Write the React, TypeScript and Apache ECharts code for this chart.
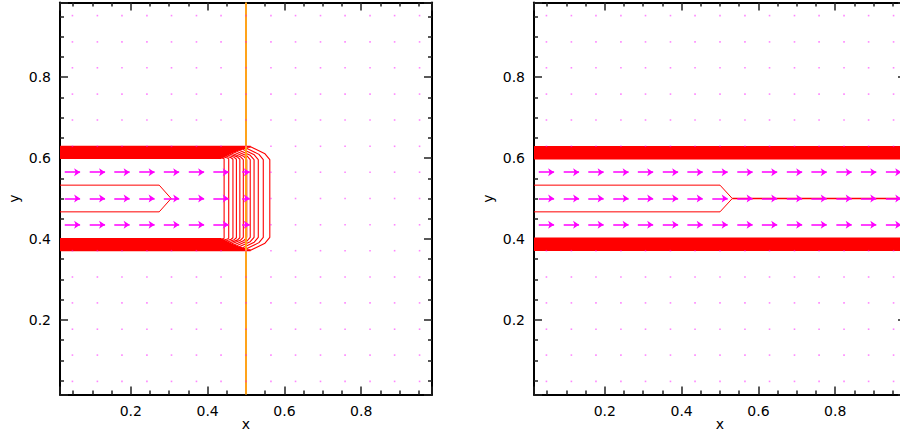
import React, { useEffect, useRef } from "react";
import * as echarts from "echarts";

// ---------- data ----------
const AX_MIN = 0.015625;
const AX_MAX = 0.984375;
const tickLabels = ["0.2", "0.4", "0.6", "0.8"];

// vector-field sample positions (both axes)
const gridCoords = [0.048, 0.113, 0.177, 0.242, 0.306, 0.371, 0.435, 0.5, 0.565, 0.629, 0.694, 0.758, 0.823, 0.887, 0.952];
// rows (indices into gridCoords) that carry a flow
const arrowRows = [6, 7, 8];
// x-velocity per column
const leftArrowU = [1, 1, 1, 1, 1, 1, 1, 0.5, 0, 0, 0, 0, 0, 0, 0];
const rightArrowU = [1, 1, 1, 1, 1, 1, 1, 1, 1, 1, 1, 1, 1, 1, 1];
const ARROW_SCALE = 0.04;

// left panel: nested contour shells (top half; bottom mirrored about y=0.5)
const leftShellX = [0.443, 0.455, 0.466, 0.475, 0.484, 0.493, 0.502, 0.511, 0.521, 0.532, 0.545, 0.562];
const leftShellTop = [0.6, 0.6025, 0.605, 0.6075, 0.61, 0.6125, 0.615, 0.6175, 0.62, 0.6225, 0.625, 0.628];
const leftShellBend = [0.436, 0.442, 0.447, 0.452, 0.457, 0.462, 0.468, 0.474, 0.481, 0.49, 0.5, 0.512];
const leftShellVert = [0.598, 0.598, 0.597, 0.597, 0.597, 0.596, 0.596, 0.596, 0.596, 0.596, 0.596, 0.596];

// inner contour (left)
const leftInnerX = [AX_MIN, 0.274, 0.305, 0.274, AX_MIN];
const leftInnerY = [0.533, 0.533, 0.5, 0.467, 0.467];
// right panel bands (top half)
const rightBandY = [0.599, 0.602, 0.604, 0.607, 0.609, 0.612, 0.614, 0.617, 0.619, 0.622, 0.624, 0.627];
const rightInnerX = [AX_MIN, 0.5, 0.532, 0.5, AX_MIN];
const rightInnerY = [0.533, 0.533, 0.5, 0.467, 0.467];
const rightTailX = [0.532, AX_MAX];
const rightTailY = [0.5, 0.5];

const orangeX = 0.5;

// ---------- helpers ----------
const FONT = "DejaVu Sans";
const RED = "#ff0000";
const MAGENTA = "#ff00ff";

function fmt(v: number) {
  const k = Math.round(v * 5);
  if (Math.abs(v * 5 - k) < 1e-6 && k > 0 && k < 5) return tickLabels[k - 1];
  return "";
}

function axisCommon(showLabel: boolean) {
  return {
    type: "value",
    min: AX_MIN,
    max: AX_MAX,
    splitLine: { show: false },
    axisLine: { show: true, onZero: false, lineStyle: { color: "#000", width: 2 } },
    axisTick: { show: true, inside: true, length: 8, lineStyle: { color: "#222", width: 1.5 } },
    minorTick: { show: true, splitNumber: 4, length: 4, lineStyle: { color: "#222", width: 1.5 } },
    minorSplitLine: { show: false },
    axisLabel: {
      show: showLabel,
      formatter: fmt,
      fontFamily: FONT,
      fontSize: 14,
      color: "#000",
      margin: 9,
      showMinLabel: false,
      showMaxLabel: false,
    },
  };
}

function lineSeries(g: number, pts: number[][], color: string, width: number) {
  return {
    type: "line",
    xAxisIndex: g * 2,
    yAxisIndex: g * 2,
    data: pts,
    showSymbol: false,
    symbol: "none",
    silent: true,
    clip: true,
    lineStyle: { color, width },
    z: 2,
  };
}

function buildArrows(g: number, u: number[]) {
  const data: any[] = [];
  arrowRows.forEach((r) => {
    u.forEach((val, c) => {
      if (val <= 0) return;
      const half = (val * ARROW_SCALE) / 2;
      const x = gridCoords[c];
      const y = gridCoords[r];
      data.push({ coords: [[x - half, y], [x + half, y]] });
    });
  });
  return {
    type: "lines",
    coordinateSystem: "cartesian2d",
    xAxisIndex: g * 2,
    yAxisIndex: g * 2,
    data,
    silent: true,
    symbol: ["none", "arrow"],
    symbolSize: 6,
    lineStyle: { color: MAGENTA, width: 1.5, opacity: 1 },
    z: 5,
  };
}

function buildDots(g: number, u: number[]) {
  const pts: number[][] = [];
  gridCoords.forEach((y, r) => {
    gridCoords.forEach((x, c) => {
      if (arrowRows.includes(r) && u[c] > 0) return;
      pts.push([x, y]);
    });
  });
  return {
    type: "scatter",
    xAxisIndex: g * 2,
    yAxisIndex: g * 2,
    data: pts,
    symbol: "rect",
    symbolSize: 1.6,
    silent: true,
    itemStyle: { color: "rgba(255,0,255,0.6)" },
    z: 4,
  };
}

function buildOption() {
  const series: any[] = [];

  // left shells
  leftShellX.forEach((xv, i) => {
    const top = leftShellTop[i];
    const bend = leftShellBend[i];
    const vert = leftShellVert[i];
    const midX = bend + 0.75 * (xv - bend);
    const midY = vert + 0.45 * (top - vert);
    const pts = [
      [AX_MIN, top],
      [bend, top],
      [midX, midY],
      [xv, vert],
      [xv, 1 - vert],
      [midX, 1 - midY],
      [bend, 1 - top],
      [AX_MIN, 1 - top],
    ];
    series.push(lineSeries(0, pts, RED, 1.1));
    // dense straight runs merge into solid bands
    series.push(lineSeries(0, [[AX_MIN, top], [bend, top]], RED, 2));
    series.push(lineSeries(0, [[AX_MIN, 1 - top], [bend, 1 - top]], RED, 2));
  });
  series.push(lineSeries(0, leftInnerX.map((x, i) => [x, leftInnerY[i]]), RED, 1));

  // right bands
  rightBandY.forEach((y) => {
    series.push(lineSeries(1, [[AX_MIN, y], [AX_MAX, y]], RED, 2));
    series.push(lineSeries(1, [[AX_MIN, 1 - y], [AX_MAX, 1 - y]], RED, 2));
  });
  series.push(lineSeries(1, rightInnerX.map((x, i) => [x, rightInnerY[i]]), RED, 1));
  series.push(lineSeries(1, rightTailX.map((x, i) => [x, rightTailY[i]]), RED, 1.5));

  // orange line (left)
  const orange = lineSeries(0, [[orangeX, AX_MIN], [orangeX, AX_MAX]], "#ffa31a", 2);
  orange.z = 3;
  series.push(orange);

  series.push(buildDots(0, leftArrowU));
  series.push(buildDots(1, rightArrowU));
  series.push(buildArrows(0, leftArrowU));
  series.push(buildArrows(1, rightArrowU));

  const grids = [
    { left: 60, top: 2.5, width: 372, height: 392, outerBoundsMode: "none", containLabel: false },
    { left: 534, top: 2.5, width: 372, height: 392, outerBoundsMode: "none", containLabel: false },
  ];

  const xAxis: any[] = [];
  const yAxis: any[] = [];
  [0, 1].forEach((g) => {
    xAxis.push({
      ...axisCommon(true),
      gridIndex: g,
      position: "bottom",
      name: "x",
      nameLocation: "middle",
      nameGap: 22,
      nameMoveOverlap: false,
      nameTextStyle: { fontFamily: FONT, fontSize: 14, color: "#000", lineHeight: 14 },
    });
    xAxis.push({ ...axisCommon(false), gridIndex: g, position: "top" });
    yAxis.push({
      ...axisCommon(true),
      gridIndex: g,
      position: "left",
      name: "y",
      nameLocation: "middle",
      nameGap: 39,
      nameMoveOverlap: false,
      nameTextStyle: { fontFamily: FONT, fontSize: 14, color: "#000", lineHeight: 14 },
    });
    yAxis.push({ ...axisCommon(false), gridIndex: g, position: "right" });
  });

  return {
    animation: false,
    backgroundColor: "#fff",
    grid: grids,
    xAxis,
    yAxis,
    series,
  };
}

export default function App() {
  const ref = useRef<HTMLDivElement>(null);
  useEffect(() => {
    if (!ref.current) return;
    const chart = echarts.init(ref.current, null, { renderer: "svg" });
    chart.setOption(buildOption() as any);
    return () => chart.dispose();
  }, []);
  return (
    <div
      ref={ref}
      style={{ position: "fixed", left: 0, top: 0, width: 900, height: 434, background: "#fff" }}
    />
  );
}
